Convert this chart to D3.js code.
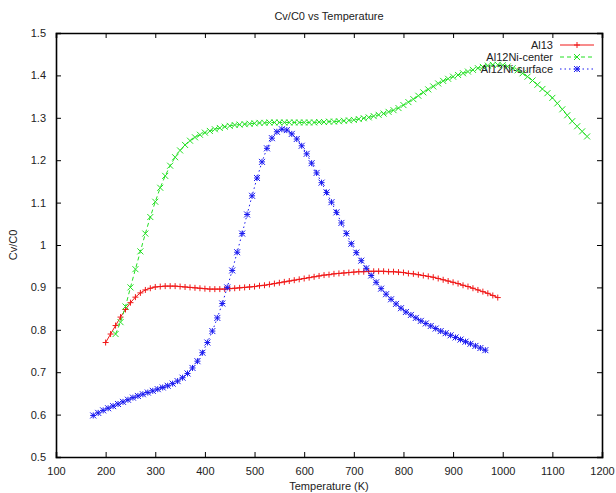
<!DOCTYPE html>
<html>
<head>
<meta charset="utf-8">
<style>
  body { margin: 0; background: #fff; }
  text { font-family: "Liberation Sans", Arial, sans-serif; font-size: 11px; fill: #222; }
</style>
</head>
<body>
<div id="container"></div>
<script src="https://d3js.org/d3.v7.min.js"></script>
<script>
// temperature grid (K) of each series: start, step 10
var al13Start = 200, centerStart = 220, surfaceStart = 175;

var al13 = [
  0.770, 0.790, 0.810, 0.830, 0.848, 0.864, 0.877, 0.887, 0.894, 0.898,
  0.901, 0.902, 0.903, 0.903, 0.903, 0.902, 0.901, 0.900, 0.899, 0.898,
  0.897, 0.896, 0.896, 0.896, 0.896, 0.897, 0.898, 0.899, 0.900, 0.901,
  0.902, 0.904, 0.905, 0.907, 0.909, 0.911, 0.913, 0.915, 0.917, 0.919,
  0.921, 0.923, 0.925, 0.927, 0.929, 0.930, 0.932, 0.933, 0.934, 0.935,
  0.936, 0.937, 0.937, 0.938, 0.938, 0.938, 0.938, 0.937, 0.937, 0.936,
  0.935, 0.933, 0.932, 0.930, 0.928, 0.926, 0.924, 0.921, 0.918, 0.915,
  0.912, 0.909, 0.905, 0.902, 0.898, 0.894, 0.890, 0.886, 0.881, 0.876
];

var center = [
  0.790, 0.818, 0.855, 0.900, 0.943, 0.985, 1.027, 1.066, 1.102, 1.135,
  1.163, 1.187, 1.207, 1.223, 1.236, 1.246, 1.254, 1.260, 1.265, 1.269,
  1.273, 1.276, 1.279, 1.281, 1.283, 1.284, 1.285, 1.286, 1.287, 1.288,
  1.288, 1.289, 1.289, 1.289, 1.289, 1.289, 1.289, 1.289, 1.289, 1.289,
  1.289, 1.290, 1.290, 1.291, 1.291, 1.292, 1.293, 1.294, 1.295, 1.297,
  1.299, 1.301, 1.304, 1.307, 1.310, 1.314, 1.318, 1.323, 1.330, 1.337,
  1.344, 1.352, 1.360, 1.367, 1.374, 1.381, 1.387, 1.392, 1.397, 1.401,
  1.405, 1.409, 1.413, 1.417, 1.420, 1.423, 1.425, 1.425, 1.424, 1.421,
  1.417, 1.412, 1.405, 1.397, 1.388, 1.378, 1.368, 1.358, 1.347, 1.334,
  1.320, 1.306, 1.292, 1.280, 1.268, 1.256
];

var surface = [
  0.598, 0.604, 0.610, 0.615, 0.620, 0.625, 0.630, 0.635, 0.640, 0.644,
  0.648, 0.652, 0.656, 0.660, 0.664, 0.668, 0.673, 0.679, 0.687, 0.697,
  0.710, 0.726, 0.746, 0.770, 0.797, 0.828, 0.862, 0.900, 0.940, 0.983,
  1.027, 1.072, 1.116, 1.158, 1.196, 1.228, 1.252, 1.267, 1.273, 1.271,
  1.262, 1.250, 1.234, 1.215, 1.193, 1.170, 1.147, 1.124, 1.101, 1.077,
  1.052, 1.027, 1.003, 0.982, 0.963, 0.945, 0.928, 0.912, 0.897, 0.884,
  0.872, 0.861, 0.851, 0.842, 0.835, 0.828, 0.821, 0.815, 0.809, 0.803,
  0.797, 0.792, 0.787, 0.782, 0.777, 0.772, 0.767, 0.762, 0.757, 0.752
];

var xTicks = [100, 200, 300, 400, 500, 600, 700, 800, 900, 1000, 1100, 1200];
var yTicks = [0.5, 0.6, 0.7, 0.8, 0.9, 1, 1.1, 1.2, 1.3, 1.4, 1.5];
var names = ["Al13", "Al12Ni-center", "Al12Ni-surface"];

var margin = {top: 33, right: 14, bottom: 36, left: 56},
    width = 616 - margin.left - margin.right,
    height = 493 - margin.top - margin.bottom;

var series = [
  {name: names[0], start: al13Start, values: al13, color: "#f01818", dash: null, mark: "plus"},
  {name: names[1], start: centerStart, values: center, color: "#22e022", dash: "4,3", mark: "cross"},
  {name: names[2], start: surfaceStart, values: surface, color: "#1818f0", dash: "1.5,3", mark: "star"}
];
series.forEach(function (s) {
  s.points = s.values.map(function (v, i) { return [s.start + i * 10, v]; });
});

var svg = d3.select("#container").append("svg")
    .attr("width", 616)
    .attr("height", 493);
var g = svg.append("g")
    .attr("transform", "translate(" + margin.left + "," + margin.top + ")");

var x = d3.scaleLinear().domain([100, 1200]).range([0, width]);
var y = d3.scaleLinear().domain([0.5, 1.5]).range([height, 0]);

// axes, ticks pointing inward, mirrored on top/right
g.append("g")
  .attr("transform", "translate(0," + height + ")")
  .call(d3.axisBottom(x).tickValues(xTicks).tickSize(-5).tickPadding(10).tickFormat(d3.format("d")));
g.append("g")
  .call(d3.axisTop(x).tickValues(xTicks).tickSize(-5).tickFormat(""));
g.append("g")
  .call(d3.axisLeft(y).tickValues(yTicks).tickSize(-5).tickPadding(10).tickFormat(function (d) { return d; }));
g.append("g")
  .attr("transform", "translate(" + width + ",0)")
  .call(d3.axisRight(y).tickValues(yTicks).tickSize(-5).tickFormat(""));

g.selectAll(".domain").attr("stroke", "#000").attr("stroke-width", 1.6);
g.selectAll(".tick line").attr("stroke", "#000");
g.selectAll(".tick text").attr("font-size", "11px").attr("font-family", "Liberation Sans, Arial, sans-serif").attr("fill", "#222");

// titles
svg.append("text")
  .attr("x", margin.left + width / 2).attr("y", 20)
  .attr("text-anchor", "middle")
  .text("Cv/C0 vs Temperature");
svg.append("text")
  .attr("x", margin.left + width / 2).attr("y", 490)
  .attr("text-anchor", "middle")
  .text("Temperature (K)");
svg.append("text")
  .attr("transform", "translate(17," + (margin.top + height / 2) + ") rotate(-90)")
  .attr("text-anchor", "middle")
  .text("Cv/C0");

function marker(sel, type, color) {
  var r = 3;
  var p = "";
  if (type === "plus" || type === "star") p += "M" + (-r) + ",0H" + r + "M0," + (-r) + "V" + r;
  if (type === "cross" || type === "star") p += "M" + (-r) + "," + (-r) + "L" + r + "," + r + "M" + (-r) + "," + r + "L" + r + "," + (-r);
  sel.append("path").attr("d", p).attr("stroke", color).attr("stroke-width", 1).attr("fill", "none");
}

var line = d3.line()
  .x(function (d) { return x(d[0]); })
  .y(function (d) { return y(d[1]); })
  .curve(d3.curveLinear);

series.forEach(function (s) {
  g.append("path")
    .datum(s.points)
    .attr("d", line)
    .attr("fill", "none")
    .attr("stroke", s.color)
    .attr("stroke-width", 1)
    .attr("stroke-dasharray", s.dash);
  g.append("g").selectAll("g").data(s.points).enter().append("g")
    .attr("transform", function (d) { return "translate(" + x(d[0]) + "," + y(d[1]) + ")"; })
    .each(function () { marker(d3.select(this), s.mark, s.color); });
});

// legend
var legend = svg.append("g");
series.forEach(function (s, i) {
  var ly = 45 + i * 12;
  legend.append("text").attr("x", 553).attr("y", ly).attr("dy", "0.35em")
    .attr("text-anchor", "end").text(s.name);
  legend.append("line").attr("x1", 560).attr("x2", 594).attr("y1", ly).attr("y2", ly)
    .attr("stroke", s.color).attr("stroke-width", 1).attr("stroke-dasharray", s.dash);
  marker(legend.append("g").attr("transform", "translate(577," + ly + ")"), s.mark, s.color);
});
</script>
</body>
</html>
